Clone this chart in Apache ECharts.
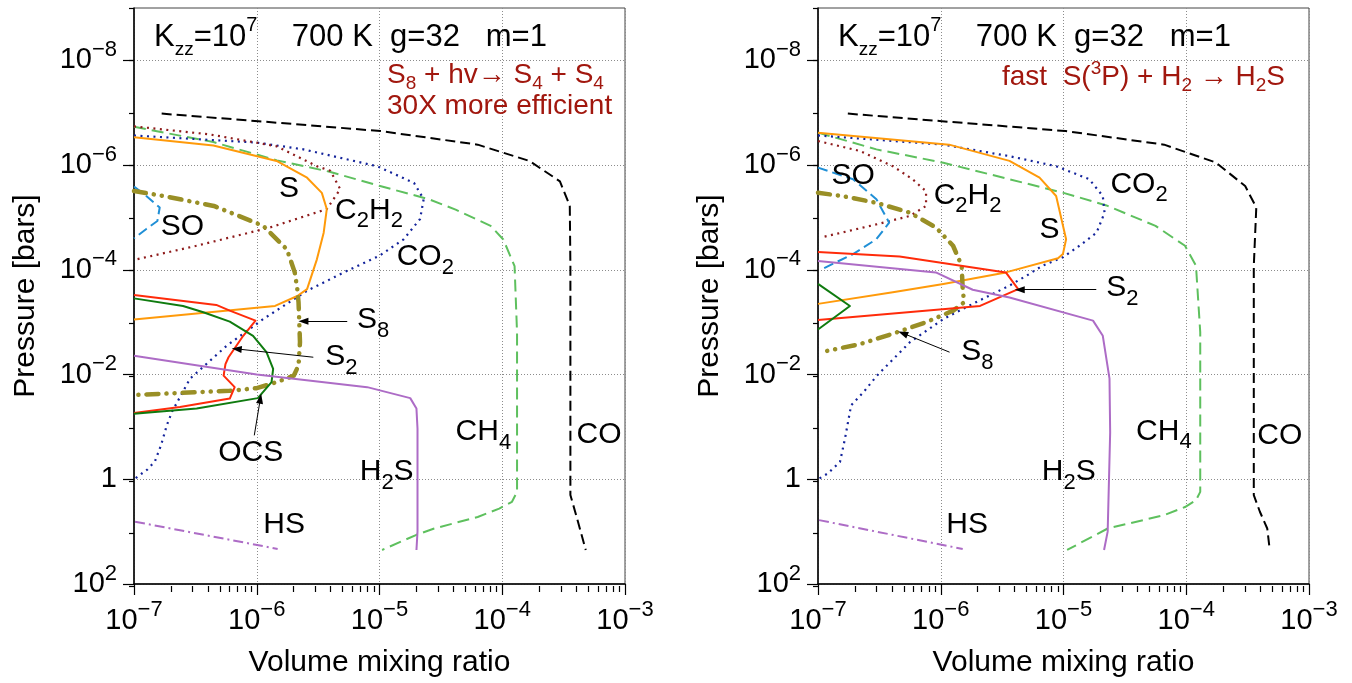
<!DOCTYPE html>
<html>
<head>
<meta charset="utf-8">
<script src="https://cdn.jsdelivr.net/npm/echarts@6/dist/echarts.min.js"></script>
<style>
  html, body { margin: 0; padding: 0; background: #fff; }
  #chart { width: 1352px; height: 683px; }
</style>
</head>
<body>
<div id="chart"></div>
<script>
// Vertical profiles: each point is [volume mixing ratio, pressure in bar]

// ---- left panel: S8 + hv -> S4 + S4 made 30X more efficient ----
const leftCO = [[1.68e-7,1.04e-7],[1.03e-6,1.45e-7],[1.02e-5,2.24e-7],[6.31e-5,4.07e-7],[1.66e-4,8.3e-7],[2.95e-4,2.04e-6],[3.55e-4,6.0e-6],[3.59e-4,8.5e-5],[3.59e-4,2.0],[4.07e-4,5.62],[4.79e-4,22.4]];
const leftCH4 = [[1e-7,1.86e-7],[4.43e-7,3.63e-7],[1.46e-6,8.13e-7],[3.98e-6,1.35e-6],[1.01e-5,2.51e-6],[2.51e-5,4.47e-6],[4.17e-5,7.08e-6],[8.04e-5,1.45e-5],[1.02e-4,2.63e-5],[1.26e-4,8.51e-5],[1.32e-4,1.58e-3],[1.32e-4,1.74],[1.20e-4,2.69],[9.44e-5,3.63],[6.31e-5,5.25],[2.79e-5,8.71],[2.0e-5,11.5],[1.05e-5,22.4]];
const leftCO2 = [[1e-7,2.72e-7],[1e-6,3.72e-7],[2.40e-6,5.01e-7],[9.55e-6,1.05e-6],[1.91e-5,2.19e-6],[2.29e-5,4.47e-6],[2.14e-5,1.07e-5],[1.57e-5,2.63e-5],[1e-5,5.37e-5],[5.13e-6,1.12e-4],[2.57e-6,2.51e-4],[1.13e-6,8.71e-4],[5.69e-7,2.82e-3],[2.86e-7,1.20e-2],[2.04e-7,5.13e-2],[1.85e-7,9.33e-2],[1.66e-7,0.224],[1.48e-7,0.457],[1.29e-7,0.646],[1e-7,1]];
const leftC2H2 = [[1e-7,1.82e-7],[4.17e-7,2.60e-7],[1.45e-6,4.37e-7],[3.09e-6,1.05e-6],[3.98e-6,1.29e-6],[4.79e-6,2.88e-6],[3.72e-6,6.92e-6],[1.29e-6,1.55e-5],[3.24e-7,3.47e-5],[1.05e-7,6.31e-5]];
const leftS = [[1e-7,2.95e-7],[4.43e-7,4.22e-7],[1.45e-6,8.32e-7],[2.57e-6,1.74e-6],[3.39e-6,3.39e-6],[3.72e-6,6.92e-6],[3.51e-6,1.95e-5],[3.09e-6,6.31e-5],[2.57e-6,2.34e-4],[2.14e-6,3.16e-4],[1.41e-6,4.90e-4],[1e-7,8.91e-4]];
const leftS8 = [[1e-7,3.13e-6],[1.74e-7,3.89e-6],[4.47e-7,6.03e-6],[1.13e-6,1.45e-5],[1.76e-6,4.07e-5],[2.04e-6,1.12e-4],[2.14e-6,2.34e-4],[2.19e-6,4.17e-4],[2.25e-6,2.40e-3],[2.19e-6,6.76e-3],[2.0e-6,1.05e-2],[1.45e-6,1.40e-2],[1e-6,1.82e-2],[6.03e-7,2.04e-2],[2.37e-7,2.24e-2],[1.05e-7,2.45e-2]];
const leftS2 = [[1e-7,3.02e-4],[4.68e-7,4.68e-4],[6.03e-7,6.03e-4],[9.77e-7,9.33e-4],[7.76e-7,1.82e-3],[5.89e-7,4.68e-3],[5.56e-7,6.31e-3],[5.37e-7,1.05e-2],[6.61e-7,1.74e-2],[6.03e-7,2.88e-2],[2.37e-7,4.17e-2],[1e-7,5.43e-2]];
const leftOCS = [[1e-7,3.51e-4],[2.51e-7,4.90e-4],[3.67e-7,6.46e-4],[6.03e-7,9.77e-4],[9.33e-7,1.82e-3],[1.20e-6,3.72e-3],[1.36e-6,7.76e-3],[1.32e-6,1.40e-2],[1.02e-6,2.82e-2],[3.24e-7,4.47e-2],[1e-7,5.62e-2]];
const leftH2S = [[1e-7,4.37e-3],[1e-6,1e-2],[7.94e-6,1.74e-2],[1.78e-5,2.82e-2],[2.0e-5,4.47e-2],[2.04e-5,0.107],[2.04e-5,10],[2.0e-5,22.4]];
const leftSO = [[1e-7,2.57e-6],[1.26e-7,3.89e-6],[1.62e-7,6.46e-6],[1.55e-7,1.17e-5],[1.26e-7,1.66e-5],[1e-7,2.51e-5]];
const leftHS = [[1.02e-7,6.46],[1.48e-6,21.4]];

// ---- right panel: fast S(3P) + H2 -> H2S ----
const rightCO = [[1.75e-7,1.04e-7],[1.02e-6,1.45e-7],[1.04e-5,2.24e-7],[6.61e-5,4.07e-7],[1.74e-4,8.91e-7],[3.02e-4,2.51e-6],[3.72e-4,6.46e-6],[3.55e-4,8.51e-5],[3.55e-4,2.0],[3.98e-4,4.17],[4.57e-4,8.71],[4.79e-4,22.4]];
const rightCH4 = [[1e-7,2.40e-7],[2.99e-7,5.01e-7],[1.05e-6,9.02e-7],[3.63e-6,1.86e-6],[1e-5,3.39e-6],[2.24e-5,5.89e-6],[5.62e-5,1.45e-5],[9.77e-5,3.47e-5],[1.20e-4,8.32e-5],[1.30e-4,1.55e-3],[1.30e-4,1.74],[1.20e-4,2.51],[9.77e-5,3.39],[6.61e-5,4.84],[2.29e-5,8.71],[1.07e-5,22.4]];
const rightCO2 = [[1e-7,2.72e-7],[1.05e-6,4.07e-7],[3.63e-6,6.76e-7],[8.71e-6,1.05e-6],[1.62e-5,1.86e-6],[2.09e-5,3.89e-6],[2.16e-5,8.13e-6],[1.86e-5,1.95e-5],[1.35e-5,3.47e-5],[9.89e-6,5.75e-5],[6.76e-6,8.32e-5],[5.01e-6,1.29e-4],[3.63e-6,2.0e-4],[1.82e-6,4.47e-4],[1.05e-6,8.71e-4],[5.62e-7,2.40e-3],[3.02e-7,1.05e-2],[2.34e-7,2.19e-2],[1.86e-7,3.89e-2],[1.66e-7,0.166],[1.51e-7,0.468],[1.20e-7,0.776],[1e-7,1]];
const rightC2H2 = [[1e-7,3.47e-7],[2.19e-7,5.37e-7],[4.07e-7,1.05e-6],[5.89e-7,1.86e-6],[7.59e-7,3.16e-6],[7.59e-7,6.03e-6],[5.62e-7,9.33e-6],[3.02e-7,1.35e-5],[1.07e-7,2.40e-5]];
const rightS = [[1e-7,2.40e-7],[1.17e-6,4.07e-7],[3.63e-6,8.32e-7],[6.38e-6,1.74e-6],[8.71e-6,3.89e-6],[1.05e-5,2.60e-5],[9.89e-6,5.01e-5],[9.02e-6,6.03e-5],[3.39e-6,1.12e-4],[1.05e-6,1.86e-4],[4.07e-7,2.69e-4],[1e-7,4.47e-4]];
const rightS8 = [[1e-7,3.39e-6],[1.58e-7,3.89e-6],[2.99e-7,5.25e-6],[5.62e-7,8.13e-6],[9.12e-7,1.55e-5],[1.26e-6,3.47e-5],[1.48e-6,8.32e-5],[1.51e-6,2.34e-4],[1.55e-6,4.17e-4],[1.26e-6,6.03e-4],[7.59e-7,1e-3],[4.07e-7,1.66e-3],[2.19e-7,2.63e-3],[1.07e-7,3.72e-3]];
const rightS2 = [[1e-7,4.57e-5],[4.62e-7,5.56e-5],[3.39e-6,1.12e-4],[4.27e-6,2.34e-4],[2.09e-6,4.90e-4],[1e-7,9.12e-4]];
const rightOCS = [[1e-7,1.86e-4],[1.82e-7,4.90e-4],[1e-7,1.38e-3]];
const rightH2S = [[1e-7,6.76e-5],[9.12e-7,1.12e-4],[1.82e-6,2.40e-4],[3.63e-6,3.39e-4],[1.74e-5,9.33e-4],[2.09e-5,1.82e-3],[2.37e-5,1.20e-2],[2.40e-5,0.126],[2.29e-5,10],[2.14e-5,22.4]];
const rightSO = [[1e-7,1.12e-6],[1.93e-7,1.86e-6],[2.99e-7,4.47e-6],[3.80e-7,1.26e-5],[2.99e-7,2.60e-5],[1.93e-7,5.01e-5],[1.07e-7,9.77e-5]];
const rightHS = [[1.02e-7,6.03],[1.51e-6,21.4]];

// ---- axis ticks ----
const xRange = [1e-7, 1e-3];
const yRange = [1e-9, 1e2];
const xDecades = [1e-7, 1e-6, 1e-5, 1e-4, 1e-3];
const xMinorSteps = [2, 3, 4, 5, 6, 7, 8, 9];
const yDecades = [1e-9, 1e-8, 1e-7, 1e-6, 1e-5, 1e-4, 1e-3, 1e-2, 1e-1, 1, 1e1, 1e2];
const yLabelledTicks = [1e-8, 1e-6, 1e-4, 1e-2, 1, 1e2];

// ---- text ----
const headline = '{n|K}{s|zz}{n|=10}{p|7}{n|    700 K  g=32   m=1}';
const leftReaction = '{r|S}{rs|8}{r| + hv\u2192 S}{rs|4}{r| + S}{rs|4}\n{r|30X more efficient}';
const rightReaction = '{r|fast  S(}{rp|3}{r|P) + H}{rs|2}{r| \u2192 H}{rs|2}{r|S}';
const xTitle = 'Volume mixing ratio';
const yTitle = 'Pressure [bars]';

// species labels (anchor = left edge, vertical middle) and pointer arrows
const leftNotes = [
  ['{n|S}', [1.52e-6, 2.78e-6]],
  ['{n|C}{s|2}{n|H}{s|2}', [4.35e-6, 7.33e-6]],
  ['{n|SO}', [1.65e-7, 1.50e-5]],
  ['{n|CO}{s|2}', [1.38e-5, 5.61e-5]],
  ['{n|S}{s|8}', [6.56e-6, 9.12e-4]],
  ['{n|S}{s|2}', [3.61e-6, 4.67e-3]],
  ['{n|OCS}', [4.86e-7, 0.310]],
  ['{n|CH}{s|4}', [4.17e-5, 0.124]],
  ['{n|CO}', [4.03e-4, 0.144]],
  ['{n|H}{s|2}{n|S}', [6.90e-6, 0.713]],
  ['{n|HS}', [1.13e-6, 7.52]]
];
const leftArrows = [
  [[5.46e-6, 9.62e-4], [2.40e-6, 9.62e-4]],
  [[2.89e-6, 4.67e-3], [6.87e-7, 3.24e-3]],
  [[9.55e-7, 0.145], [1.07e-6, 2.90e-2]]
];
const rightNotes = [
  ['{n|SO}', [1.29e-7, 1.58e-6]],
  ['{n|C}{s|2}{n|H}{s|2}', [8.75e-7, 3.78e-6]],
  ['{n|S}', [6.38e-6, 1.68e-5]],
  ['{n|CO}{s|2}', [2.41e-5, 2.33e-6]],
  ['{n|S}{s|2}', [2.23e-5, 2.19e-4]],
  ['{n|S}{s|8}', [1.47e-6, 3.74e-3]],
  ['{n|CH}{s|4}', [3.90e-5, 0.121]],
  ['{n|CO}', [3.79e-4, 0.147]],
  ['{n|H}{s|2}{n|S}', [6.65e-6, 0.713]],
  ['{n|HS}', [1.11e-6, 7.52]]
];
const rightArrows = [
  [[1.85e-5, 2.40e-4], [4.40e-6, 2.40e-4]],
  [[1.18e-6, 3.74e-3], [4.92e-7, 1.63e-3]]
];

// ---- styling ----
const FONT = '"Liberation Sans", Arial, Helvetica, sans-serif';
const INK = '#000000';
const RED_INK = '#a1170e';
const GRID_INK = '#8c8c8c';
const curveStyles = {
  CO:   { color: '#000000', width: 2,   type: [10, 5] },
  CH4:  { color: '#5ec05e', width: 2,   type: [12, 6] },
  CO2:  { color: '#13239b', width: 2.2, type: [2, 4.5] },
  C2H2: { color: '#8e1b1b', width: 2.2, type: [2, 4.5] },
  SO:   { color: '#1f8fd6', width: 2,   type: [10, 5] },
  S:    { color: '#ff9a0a', width: 2,   type: 'solid' },
  S8:   { color: '#998f26', width: 4.5, type: [12, 8, 0.1, 8, 0.1, 8], cap: 'round' },
  S2:   { color: '#ff2b0a', width: 2,   type: 'solid' },
  OCS:  { color: '#0f7b0f', width: 2,   type: 'solid' },
  H2S:  { color: '#ad6cc6', width: 2,   type: 'solid' },
  HS:   { color: '#ad6cc6', width: 2,   type: [10, 4, 2, 4] }
};

const panels = [
  { left: 134, curves: { CO: leftCO, CH4: leftCH4, CO2: leftCO2, C2H2: leftC2H2, SO: leftSO, S: leftS, S8: leftS8, S2: leftS2, OCS: leftOCS, H2S: leftH2S, HS: leftHS },
    notes: leftNotes, arrows: leftArrows, reaction: leftReaction, reactionPos: [387, 56] },
  { left: 818, curves: { CO: rightCO, CH4: rightCH4, CO2: rightCO2, C2H2: rightC2H2, SO: rightSO, S: rightS, S8: rightS8, S2: rightS2, OCS: rightOCS, H2S: rightH2S, HS: rightHS },
    notes: rightNotes, arrows: rightArrows, reaction: rightReaction, reactionPos: [1002, 58] }
];
const PLOT = { top: 8, width: 491, height: 578 };

// text-style helper; sub/superscripts are placed with top alignment and top padding
function ts(size, color, extra) {
  return Object.assign({ fontSize: size, fontFamily: FONT, fontWeight: 'normal', color: color, opacity: 1 }, extra || {});
}
const tickRich = {
  b: ts(29, INK, { verticalAlign: 'top', padding: [7, 0, 0, 0], lineHeight: 43 }),
  p: ts(22, INK, { verticalAlign: 'top', padding: [0, 0, 0, 0], lineHeight: 10 })
};
const noteRich = {
  n: ts(30, INK, { verticalAlign: 'top', lineHeight: 30 }),
  s: ts(22, INK, { verticalAlign: 'top', padding: [15, 0, 0, 0], lineHeight: 10 })
};
const headRich = {
  n: ts(31, INK, { verticalAlign: 'top', padding: [7, 0, 0, 0], lineHeight: 38 }),
  s: ts(19, INK, { verticalAlign: 'top', padding: [25, 0, 0, 0], lineHeight: 10 }),
  p: ts(20, INK, { verticalAlign: 'top', padding: [0, 0, 0, 0], lineHeight: 10 })
};
const reactionRich = {
  r:  ts(28, RED_INK, { verticalAlign: 'top', padding: [5, 0, 0, 0], lineHeight: 31 }),
  rs: ts(19, RED_INK, { verticalAlign: 'top', padding: [18, 0, 0, 0], lineHeight: 10 }),
  rp: ts(19, RED_INK, { verticalAlign: 'top', padding: [1, 0, 0, 0], lineHeight: 10 })
};

function powerLabel(v) {
  const e = Math.round(Math.log10(v));
  if (e === 0) return '{b|1}';
  return '{b|10}{p|' + (e < 0 ? '\u2212' : '') + Math.abs(e) + '}';
}

const xMinorTicks = [];
xDecades.slice(0, -1).forEach(d => xMinorSteps.forEach(m => xMinorTicks.push(m * d)));

const gridLine = { show: true, lineStyle: { color: GRID_INK, width: 1, type: [1, 2] } };
const grids = [], xAxes = [], yAxes = [], series = [], titles = [];

panels.forEach((pn, i) => {
  grids.push({ left: pn.left, top: PLOT.top, width: PLOT.width, height: PLOT.height,
    show: true, borderColor: '#444', borderWidth: 1, backgroundColor: 'transparent' });
  xAxes.push({
    type: 'log', logBase: 10, gridIndex: i, min: xRange[0], max: xRange[1],
    position: 'bottom', name: xTitle, nameLocation: 'middle', nameGap: 64,
    nameTextStyle: ts(30, INK),
    axisLine: { show: true, onZero: false, lineStyle: { color: INK, width: 1.5 } },
    axisTick: { show: true, inside: false, length: 11, customValues: xDecades, lineStyle: { color: INK, width: 1.2 } },
    axisLabel: { show: true, margin: 15, customValues: xDecades, formatter: powerLabel, rich: tickRich },
    splitLine: gridLine,
    minorTick: { show: false }, minorSplitLine: { show: false }
  });
  yAxes.push({
    type: 'log', logBase: 10, gridIndex: i, min: yRange[0], max: yRange[1],
    inverse: true, position: 'left', name: yTitle, nameLocation: 'middle', nameGap: 93,
    nameTextStyle: ts(30, INK),
    axisLine: { show: true, onZero: false, lineStyle: { color: INK, width: 1.5 } },
    axisTick: { show: true, inside: false, length: 11, customValues: yLabelledTicks, lineStyle: { color: INK, width: 1.2 } },
    axisLabel: { show: true, margin: 17, customValues: yLabelledTicks, formatter: powerLabel, rich: tickRich },
    splitLine: gridLine,
    minorTick: { show: false }, minorSplitLine: { show: false }
  });

  Object.keys(pn.curves).forEach(key => {
    const st = curveStyles[key];
    series.push({
      type: 'line', name: key, xAxisIndex: i, yAxisIndex: i, data: pn.curves[key],
      showSymbol: false, symbol: 'none', silent: true, clip: true, z: 3,
      lineStyle: { color: st.color, width: st.width, type: st.type, cap: st.cap || 'butt', join: 'round' }
    });
  });

  series.push({
    type: 'scatter', xAxisIndex: i, yAxisIndex: i, symbolSize: 0, silent: true, z: 10,
    itemStyle: { opacity: 1 },
    data: pn.notes.map(nt => ({ value: nt[1], label: { formatter: nt[0] } })),
    label: { show: true, position: 'right', distance: 0, color: INK, opacity: 1, rich: noteRich },
    markLine: {
      silent: true, z: 10, symbol: ['none', 'triangle'], symbolSize: [7, 10], animation: false,
      label: { show: false },
      lineStyle: { color: INK, width: 1, type: 'solid', opacity: 1 },
      emphasis: { disabled: true },
      data: pn.arrows.map(a => [{ coord: a[0] }, { coord: a[1] }])
    }
  });

  titles.push({ text: headline, left: pn.left + 20, top: 15, padding: 0,
    textStyle: { fontWeight: 'normal', rich: headRich } });
  titles.push({ text: pn.reaction, left: pn.reactionPos[0], top: pn.reactionPos[1], padding: 0,
    textStyle: { fontWeight: 'normal', rich: reactionRich } });
});

// Second layer of axes on the same plot boxes: short ticks at every pressure decade
// and the 2..9 sub-decade ticks along the mixing-ratio axis.
panels.forEach((pn, i) => {
  const g = panels.length + i;
  grids.push({ left: pn.left, top: PLOT.top, width: PLOT.width, height: PLOT.height, show: false });
  xAxes.push({
    type: 'log', logBase: 10, gridIndex: g, min: xRange[0], max: xRange[1], position: 'bottom',
    axisLine: { show: false },
    axisTick: { show: true, inside: false, length: 6, customValues: xMinorTicks, lineStyle: { color: INK, width: 1.2 } },
    axisLabel: { show: false }, splitLine: { show: false }
  });
  yAxes.push({
    type: 'log', logBase: 10, gridIndex: g, min: yRange[0], max: yRange[1], inverse: true, position: 'left',
    axisLine: { show: false },
    axisTick: { show: true, inside: false, length: 5, customValues: yDecades, lineStyle: { color: INK, width: 1.2 } },
    axisLabel: { show: false }, splitLine: { show: false }
  });
});

const chart = echarts.init(document.getElementById('chart'), null, { renderer: 'canvas' });
chart.setOption({
  animation: false,
  backgroundColor: '#ffffff',
  textStyle: { fontFamily: FONT },
  title: titles,
  grid: grids,
  xAxis: xAxes,
  yAxis: yAxes,
  series: series
});
</script>
</body>
</html>
